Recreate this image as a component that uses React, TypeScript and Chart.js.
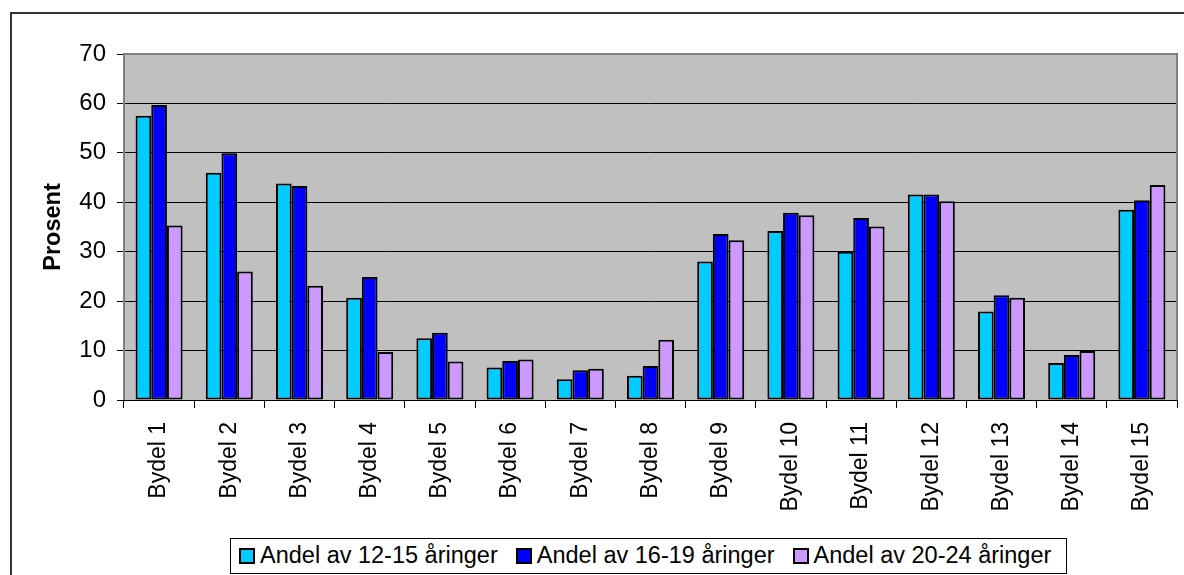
import React, { useEffect, useRef } from "react";
import { Chart, registerables } from "chart.js";

Chart.register(...registerables);

const categories = [
  "Bydel 1", "Bydel 2", "Bydel 3", "Bydel 4", "Bydel 5", "Bydel 6", "Bydel 7", "Bydel 8",
  "Bydel 9", "Bydel 10", "Bydel 11", "Bydel 12", "Bydel 13", "Bydel 14", "Bydel 15",
];
const seriesLabels = ["Andel av 12-15 åringer", "Andel av 16-19 åringer", "Andel av 20-24 åringer"];
const andel1215 = [57.5, 46.0, 43.8, 20.7, 12.5, 6.6, 4.2, 4.9, 28.0, 34.2, 30.0, 41.6, 17.9, 7.5, 38.5];
const andel1619 = [59.7, 49.9, 43.3, 24.9, 13.6, 7.9, 6.0, 6.9, 33.6, 37.9, 36.8, 41.6, 21.2, 9.1, 40.4];
const andel2024 = [35.3, 26.0, 23.1, 9.7, 7.8, 8.2, 6.3, 12.2, 32.3, 37.4, 35.1, 40.2, 20.7, 9.9, 43.5];
const seriesColors = ["#00CCFF", "#0000FF", "#CC99FF"];
const yMin = 0;
const yMax = 70;
const yStep = 10;
const yTitle = "Prosent";

const FONT = "'Liberation Sans', Arial, Helvetica, sans-serif";

const plotFrame = {
  id: "plotFrame",
  beforeDraw(chart: any) {
    const { ctx, chartArea } = chart;
    if (!chartArea) return;
    ctx.save();
    ctx.fillStyle = "#C0C0C0";
    ctx.fillRect(chartArea.left, chartArea.top, chartArea.right - chartArea.left, chartArea.bottom - chartArea.top);
    ctx.restore();
  },
  beforeDatasetsDraw(chart: any) {
    const { ctx, chartArea } = chart;
    if (!chartArea) return;
    ctx.save();
    ctx.strokeStyle = "#808080";
    ctx.lineWidth = 2;
    ctx.beginPath();
    ctx.moveTo(chartArea.left, chartArea.bottom);
    ctx.lineTo(chartArea.left, chartArea.top);
    ctx.lineTo(chartArea.right, chartArea.top);
    ctx.lineTo(chartArea.right, chartArea.bottom);
    ctx.stroke();
    ctx.strokeStyle = "#000";
    ctx.lineWidth = 1;
    ctx.beginPath();
    ctx.moveTo(chartArea.left, chartArea.bottom + 0.5);
    ctx.lineTo(chartArea.right, chartArea.bottom + 0.5);
    ctx.stroke();
    ctx.restore();
  },
};

export default function App() {
  const canvasRef = useRef<HTMLCanvasElement | null>(null);

  useEffect(() => {
    if (!canvasRef.current) return;
    const data = [andel1215, andel1619, andel2024];
    const chart = new Chart(canvasRef.current, {
      type: "bar",
      data: {
        labels: categories,
        datasets: seriesLabels.map((label, i) => ({
          label,
          data: data[i],
          backgroundColor: seriesColors[i],
          borderColor: "#000",
          borderWidth: 2,
          borderSkipped: false,
          barPercentage: 1,
          categoryPercentage: 0.67,
        })),
      },
      options: {
        animation: false,
        responsive: false,
        devicePixelRatio: 1,
        layout: { padding: { left: 0, top: 54, right: 7, bottom: 0 } },
        plugins: {
          legend: { display: false },
          tooltip: { enabled: false },
          title: { display: false },
        },
        scales: {
          x: {
            offset: true,
            grid: {
              display: true,
              drawOnChartArea: false,
              offset: true,
              tickLength: 8,
              tickColor: "#000",
              color: "#000",
            },
            border: { display: false },
            ticks: {
              autoSkip: false,
              minRotation: 90,
              maxRotation: 90,
              padding: 14,
              color: "#000",
              font: { family: FONT, size: 23 },
            },
            afterFit: (scale: any) => {
              scale.height = 175;
            },
          },
          y: {
            min: yMin,
            max: yMax,
            grid: {
              color: (c: any) => (c.tick && c.tick.value === yMax ? "rgba(0,0,0,0)" : "#000"),
              tickColor: "#000",
              tickLength: 7,
              lineWidth: 1,
            },
            border: { display: false },
            ticks: {
              stepSize: yStep,
              padding: 11,
              color: "#000",
              font: { family: FONT, size: 24 },
            },
            title: {
              display: true,
              text: yTitle,
              color: "#000",
              font: { family: FONT, size: 23.5, weight: "bold" },
              padding: { top: 39, bottom: 0 },
            },
            afterFit: (scale: any) => {
              scale.width = 124;
            },
          },
        },
      },
      plugins: [plotFrame],
    });
    return () => chart.destroy();
  }, []);

  return (
    <div
      style={{
        position: "fixed",
        left: 0,
        top: 0,
        width: 1184,
        height: 575,
        overflow: "hidden",
        background: "#fff",
      }}
    >
      <div
        style={{
          position: "absolute",
          left: 10,
          top: 12,
          width: 1300,
          height: 700,
          border: "2px solid #333",
          boxSizing: "border-box",
        }}
      />
      <canvas
        ref={canvasRef}
        width={1184}
        height={575}
        style={{ position: "absolute", left: 0, top: 0, width: 1184, height: 575 }}
      />
      <div
        style={{
          position: "absolute",
          left: 230,
          top: 538,
          width: 837,
          height: 36,
          border: "1px solid #000",
          boxSizing: "border-box",
          background: "#fff",
          display: "flex",
          alignItems: "center",
          paddingLeft: 8,
          fontFamily: FONT,
          fontSize: 23.5,
          color: "#000",
          whiteSpace: "nowrap",
          lineHeight: 1,
        }}
      >
        {seriesLabels.map((l, i) => (
          <div key={l} style={{ display: "flex", alignItems: "center", marginRight: 18 }}>
            <span
              style={{
                display: "inline-block",
                width: 16,
                height: 16,
                boxSizing: "border-box",
                border: "2px solid #000",
                background: seriesColors[i],
                marginRight: 5,
              }}
            />
            <span>{l}</span>
          </div>
        ))}
      </div>
    </div>
  );
}
